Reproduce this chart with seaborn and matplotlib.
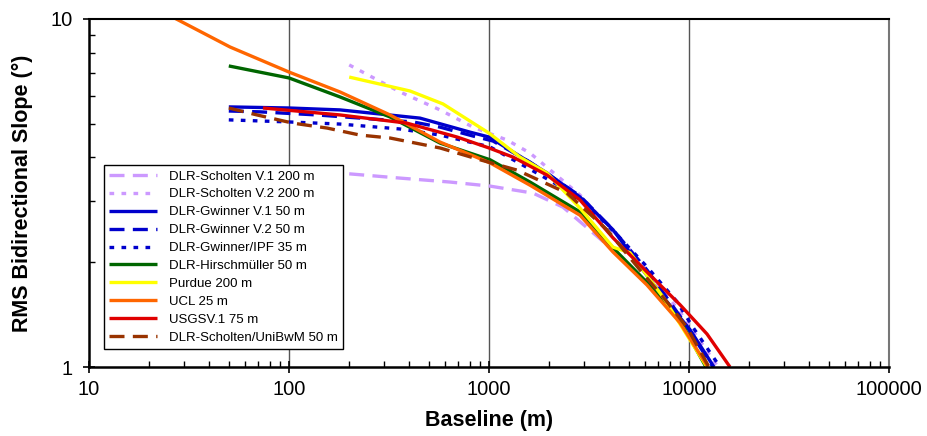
import numpy as np
import pandas as pd
import matplotlib
matplotlib.use("Agg")
import matplotlib.pyplot as plt
import seaborn as sns
from matplotlib.ticker import FixedLocator, NullFormatter, FixedFormatter

# ---- data ----
labels = ["DLR-Scholten V.1 200 m", "DLR-Scholten V.2 200 m", "DLR-Gwinner V.1 50 m",
          "DLR-Gwinner V.2 50 m", "DLR-Gwinner/IPF 35 m", "DLR-Hirschmüller 50 m",
          "Purdue 200 m", "UCL 25 m", "USGSV.1 75 m", "DLR-Scholten/UniBwM 50 m"]

scholten_v1_x = [200, 359, 638, 1012, 1660, 2344, 4169, 6166, 9016, 12303]
scholten_v1_y = [3.59, 3.49, 3.40, 3.31, 3.16, 2.88, 2.17, 1.74, 1.36, 1.0]

scholten_v2_x = [200, 359, 569, 832, 1230, 1603, 2851, 5070, 9016, 13964]
scholten_v2_y = [7.38, 6.17, 5.48, 4.89, 4.49, 4.12, 3.12, 2.17, 1.44, 1.0]

gwinner_v1_x = [50, 100, 180, 452, 804, 1000, 1318, 1950, 2851, 4169, 5070, 7413, 10116, 13335]
gwinner_v1_y = [5.59, 5.55, 5.48, 5.19, 4.73, 4.58, 4.15, 3.61, 3.08, 2.48, 2.13, 1.59, 1.28, 1.0]

gwinner_v2_x = [50, 71.6, 138, 417, 569, 832, 1047, 1603, 2851, 4169, 6166, 9016, 13183]
gwinner_v2_y = [5.44, 5.41, 5.30, 5.06, 4.89, 4.61, 4.46, 3.88, 3.10, 2.48, 1.90, 1.40, 1.0]

gwinner_ipf_x = [50, 100, 180, 359, 569, 1012, 1479, 2344, 3199, 4365, 6166, 8710, 10471, 14289]
gwinner_ipf_y = [5.13, 5.06, 4.99, 4.83, 4.64, 4.29, 3.80, 3.27, 2.86, 2.40, 1.94, 1.54, 1.30, 1.0]

hirsch_x = [50, 100, 180, 320, 569, 1012, 1603, 2851, 4169, 6166, 9016, 12162]
hirsch_y = [7.33, 6.77, 5.97, 5.23, 4.40, 3.94, 3.40, 2.79, 2.20, 1.75, 1.36, 1.0]

purdue_x = [200, 403, 589, 1000, 1429, 1950, 2851, 4169, 5070, 7413, 12303]
purdue_y = [6.81, 6.21, 5.70, 4.70, 4.01, 3.61, 2.86, 2.21, 2.13, 1.59, 1.0]

ucl_x = [25, 50.7, 100, 180, 320, 569, 1012, 1603, 2851, 4169, 6166, 9016, 12445]
ucl_y = [10.27, 8.31, 7.04, 6.17, 5.30, 4.43, 3.86, 3.33, 2.73, 2.14, 1.72, 1.34, 1.0]

usgs_x = [74.1, 180, 389, 692, 1000, 1318, 1950, 2851, 4169, 6166, 9016, 12303, 16032]
usgs_y = [5.55, 5.30, 5.02, 4.58, 4.26, 4.01, 3.56, 3.02, 2.35, 1.875, 1.51, 1.244, 1.0]

unibwm_x = [50, 69.2, 104.7, 155, 226, 320, 569, 902, 1380, 1862, 2455, 3890, 5689, 7413, 9772, 12589]
unibwm_y = [5.55, 5.30, 5.02, 4.86, 4.64, 4.55, 4.26, 3.94, 3.68, 3.40, 3.16, 2.48, 1.90, 1.59, 1.30, 1.0]

xs = [scholten_v1_x, scholten_v2_x, gwinner_v1_x, gwinner_v2_x, gwinner_ipf_x,
      hirsch_x, purdue_x, ucl_x, usgs_x, unibwm_x]
ys = [scholten_v1_y, scholten_v2_y, gwinner_v1_y, gwinner_v2_y, gwinner_ipf_y,
      hirsch_y, purdue_y, ucl_y, usgs_y, unibwm_y]

x_ticks = [10, 100, 1000, 10000, 100000]
x_tick_labels = ["10", "100", "1000", "10000", "100000"]
y_ticks = [1, 10]
y_tick_labels = ["1", "10"]

# ---- styles ----
colors = ["#CC99FF", "#CC99FF", "#0000CC", "#0000CC", "#0000CC",
          "#006600", "#FFFF00", "#FF6600", "#E00000", "#993300"]
dash_long = (4.5, 2.5)
dash_dot = (1.4, 2.2)
styles = [dash_long, dash_dot, None, dash_long, dash_dot, None, None, None, None, dash_long]

sns.set_theme(style="white")
plt.rcParams["font.family"] = ["Liberation Sans", "DejaVu Sans"]
plt.rcParams["text.color"] = "black"
plt.rcParams["axes.labelcolor"] = "black"
plt.rcParams["xtick.color"] = "black"
plt.rcParams["ytick.color"] = "black"

fig = plt.figure(figsize=(9.28, 4.36), dpi=100)
ax = fig.add_axes([89 / 928, 1 - 367 / 436, 800 / 928, 348 / 436])

for x, y, lab, c, st in zip(xs, ys, labels, colors, styles):
    df = pd.DataFrame({"x": x, "y": y})
    sns.lineplot(data=df, x="x", y="y", ax=ax, color=c, linewidth=2.4,
                 sort=False, estimator=None, label=lab)
    ln = ax.get_lines()[-1]
    if st is not None:
        ln.set_dashes(st)
        ln.set_dash_capstyle("butt")
    ln.set_solid_capstyle("butt")
    ln.set_solid_joinstyle("round")

ax.set_xscale("log")
ax.set_yscale("log")
ax.set_xlim(10, 100000)
ax.set_ylim(1, 10)

ax.xaxis.set_major_locator(FixedLocator(x_ticks))
ax.xaxis.set_major_formatter(FixedFormatter(x_tick_labels))
ax.xaxis.set_minor_locator(FixedLocator([m * 10 ** e for e in range(1, 5) for m in range(2, 10)]))
ax.xaxis.set_minor_formatter(NullFormatter())
ax.yaxis.set_major_locator(FixedLocator(y_ticks))
ax.yaxis.set_major_formatter(FixedFormatter(y_tick_labels))
ax.yaxis.set_minor_locator(FixedLocator(list(range(2, 10))))
ax.yaxis.set_minor_formatter(NullFormatter())

ax.tick_params(axis="both", which="major", direction="inout", length=8, width=1.2,
               labelsize=14.5, colors="black", bottom=True, left=True)
ax.tick_params(axis="both", which="minor", direction="in", length=4, width=1,
               bottom=True, left=True, colors="black")
ax.tick_params(axis="x", which="major", pad=5)
ax.tick_params(axis="y", which="major", pad=8)

for xv in x_ticks[1:-1]:
    ax.axvline(xv, color="#555555", linewidth=1.0, zorder=0)

ax.spines["left"].set_color("black")
ax.spines["left"].set_linewidth(1.8)
ax.spines["bottom"].set_color("black")
ax.spines["bottom"].set_linewidth(1.8)
ax.spines["top"].set_color("black")
ax.spines["top"].set_linewidth(1.5)
ax.spines["right"].set_color("#777777")
ax.spines["right"].set_linewidth(1.5)

ax.set_xlabel("Baseline (m)", fontsize=15.5, fontweight="bold", labelpad=8, color="black")
ax.set_ylabel("RMS Bidirectional Slope (°)", fontsize=15.5, fontweight="bold", labelpad=12,
              color="black")

leg = ax.legend(loc="upper left", bbox_to_anchor=(15 / 800, (367 - 165) / 348),
                borderaxespad=0, fontsize=9.5, frameon=True, fancybox=False,
                edgecolor="black", handlelength=3.6, labelspacing=0.43,
                handletextpad=0.9, borderpad=0.4)
leg.get_frame().set_linewidth(1.0)
leg.get_frame().set_alpha(1.0)
for t in leg.get_texts():
    t.set_color("black")

fig.savefig("out.png", dpi=100)
